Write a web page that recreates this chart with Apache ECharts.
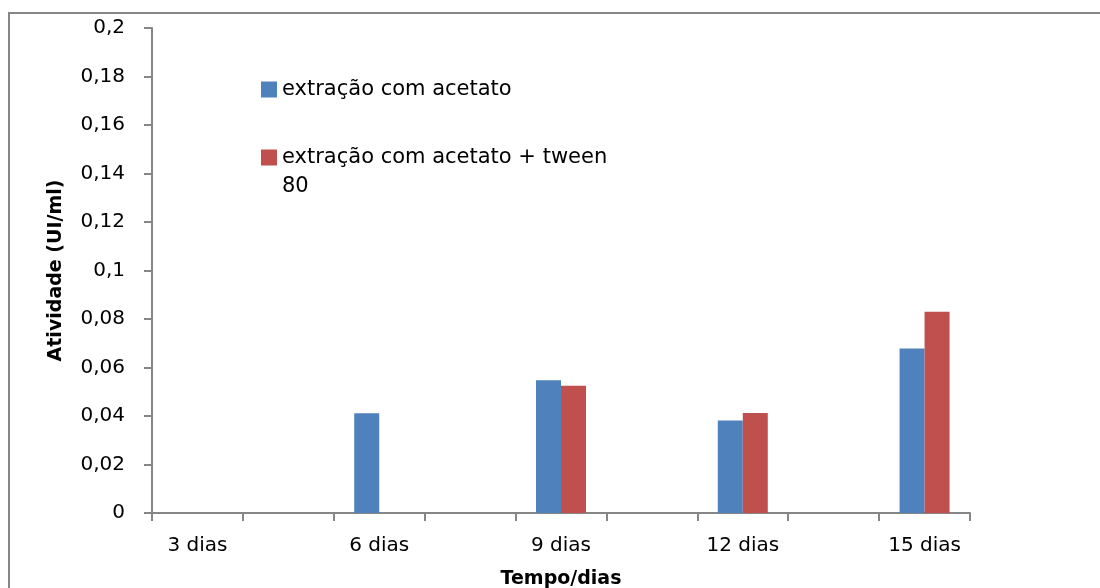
<!DOCTYPE html>
<html>
<head>
<meta charset="utf-8">
<script src="https://cdn.jsdelivr.net/npm/echarts@6/dist/echarts.min.js"></script>
<style>
  html, body { margin: 0; padding: 0; background: #fff; }
  #chart { width: 1100px; height: 588px; }
</style>
</head>
<body>
<div id="chart"></div>
<script>
// Category slots along the time axis; only every other slot carries a label
const categories = ['3 dias', '', '6 dias', '', '9 dias', '', '12 dias', '', '15 dias'];

// Enzyme activity (UI/ml) per extraction method
const seriesNames = ['extração com acetato', 'extração com acetato + tween 80'];
const acetato      = [0, null, 0.0411, null, 0.0547, null, 0.0381, null, 0.0678];
const acetatoTween = [0, null, 0,      null, 0.0525, null, 0.0412, null, 0.0830];

// Y-axis range
const yMin = 0, yMax = 0.2, yStep = 0.02;

const FONT = 'DejaVu Sans';
const AXIS_GRAY = '#868686';

const chart = echarts.init(document.getElementById('chart'), null, { renderer: 'canvas' });

chart.setOption({
  animation: false,
  backgroundColor: '#ffffff',
  textStyle: { fontFamily: FONT },
  grid: { left: 152, right: 130, top: 28, bottom: 75, containLabel: false, outerBoundsMode: 'none' },
  graphic: {
    elements: [{
      // chart frame: top edge
      type: 'line',
      x: 0, y: 0,
      shape: { x1: 8, y1: 13, x2: 1100, y2: 13 },
      style: { stroke: AXIS_GRAY, lineWidth: 2 },
      silent: true
    }, {
      // chart frame: left edge
      type: 'line',
      x: 0, y: 0,
      shape: { x1: 9, y1: 12, x2: 9, y2: 588 },
      style: { stroke: AXIS_GRAY, lineWidth: 2 },
      silent: true
    }]
  },
  legend: [{
    data: [seriesNames[0]],
    orient: 'vertical',
    left: 261, top: 79, padding: 0,
    itemWidth: 16, itemHeight: 16,
    icon: 'rect',
    textStyle: { fontFamily: FONT, fontSize: 21, color: '#000' }
  }, {
    data: [seriesNames[1]],
    orient: 'vertical',
    left: 261, top: 114, padding: 0,
    itemWidth: 16, itemHeight: 16,
    icon: 'rect',
    // leading blank line keeps the first text line level with the swatch
    formatter: name => ' \n' + name.replace(' 80', '\n80'),
    textStyle: { fontFamily: FONT, fontSize: 21, color: '#000', lineHeight: 29 }
  }],
  xAxis: {
    type: 'category',
    data: categories,
    name: 'Tempo/dias',
    nameLocation: 'middle',
    nameGap: 57,
    nameTextStyle: { fontFamily: FONT, fontSize: 19, fontWeight: 'bold', color: '#000' },
    axisLine: { lineStyle: { color: AXIS_GRAY, width: 2 } },
    axisTick: { show: true, interval: 0, alignWithLabel: false, length: 8, lineStyle: { color: AXIS_GRAY, width: 2 } },
    axisLabel: { interval: 0, margin: 23, fontFamily: FONT, fontSize: 20, color: '#000' },
    splitLine: { show: false }
  },
  yAxis: {
    type: 'value',
    min: yMin, max: yMax, interval: yStep,
    name: 'Atividade (UI/ml)',
    nameLocation: 'middle',
    nameGap: 86,
    nameTextStyle: { fontFamily: FONT, fontSize: 19, fontWeight: 'bold', color: '#000' },
    axisLine: { show: true, lineStyle: { color: AXIS_GRAY, width: 2 } },
    axisTick: { show: true, length: 8, lineStyle: { color: AXIS_GRAY, width: 2 } },
    axisLabel: {
      margin: 27, fontFamily: FONT, fontSize: 20, color: '#000',
      formatter: v => String(+v.toFixed(2)).replace('.', ',')
    },
    splitLine: { show: false }
  },
  series: [{
    name: seriesNames[0],
    type: 'bar',
    data: acetato,
    barWidth: 25,
    barGap: '0%',
    itemStyle: { color: '#4F81BD' }
  }, {
    name: seriesNames[1],
    type: 'bar',
    data: acetatoTween,
    barWidth: 25,
    barGap: '0%',
    itemStyle: { color: '#C0504D' }
  }]
});
</script>
</body>
</html>
